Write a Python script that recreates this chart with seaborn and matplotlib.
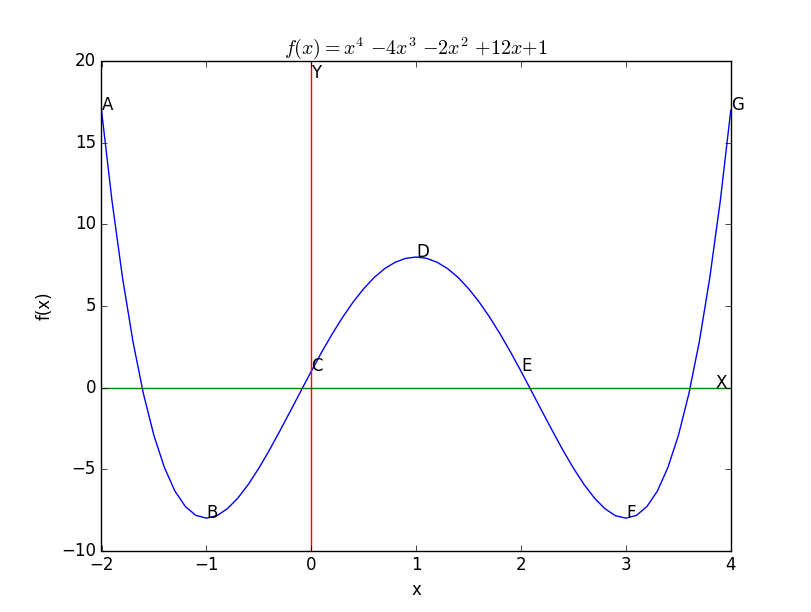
import numpy as np
import pandas as pd
import matplotlib
matplotlib.use('Agg')
import matplotlib.pyplot as plt
import seaborn as sns

# curve samples (x step 0.1)
x_vals = [round(-2 + 0.1 * i, 1) for i in range(61)]
y_left = [17.00, 11.45, 6.75, 2.82, -0.38, -2.94, -4.90, -6.34, -7.29, -7.83,
          -8.00, -7.85, -7.42, -6.77, -5.93, -4.94, -3.84, -2.66, -1.45, -0.22,
          1.00, 2.18, 3.29, 4.32, 5.25, 6.06, 6.75, 7.29, 7.68, 7.92, 8.00]
y_vals = y_left + y_left[-2::-1]

point_names = ['A', 'B', 'C', 'D', 'E', 'F', 'G']
point_x = [-2, -1, 0, 1, 2, 3, 4]
point_y = [17, -8, 1, 8, 1, -8, 17]

df = pd.DataFrame({'x': x_vals, 'fx': y_vals})

plt.style.use('classic')
fig = plt.figure(figsize=(8.12, 6.12), dpi=100)
ax = fig.add_subplot(111)

sns.lineplot(data=df, x='x', y='fx', color='b', linewidth=1.0, ax=ax)
ax.axhline(0, color='g', linewidth=1.0)
ax.axvline(0, color='r', linewidth=1.0)

for name, px, py in zip(point_names, point_x, point_y):
    ax.text(px, py, name, fontsize=12)
ax.text(3.85, 0, 'X', fontsize=12)
ax.text(0, 19, 'Y', fontsize=12)

ax.set_xlim(-2, 4)
ax.set_ylim(-10, 20)
ax.set_xlabel('x')
ax.set_ylabel('f(x)')
ax.set_title(r'$f(x){=}x^4\ {-}4x^3\ {-}2x^2\ {+}12x{+}1$')

fig.savefig('out.png', dpi=100)
